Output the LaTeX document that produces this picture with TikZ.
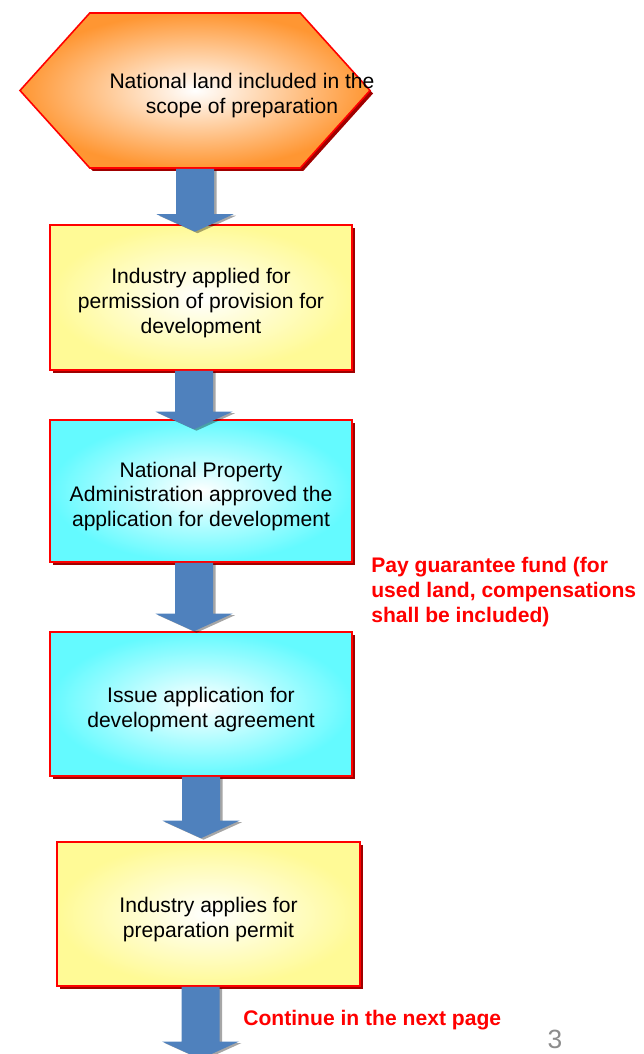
\documentclass[tikz,border=0pt]{standalone}
\usepackage{fontspec}
\setmainfont{Liberation Sans}
\usetikzlibrary{shapes.symbols,shadows,calc}
\definecolor{boxred}{RGB}{255,0,0}
\definecolor{shadowred}{RGB}{160,0,0}
\definecolor{paleyellow}{RGB}{255,250,150}
\definecolor{palecyan}{RGB}{100,250,255}
\definecolor{hexorange}{RGB}{255,150,50}
\definecolor{arrowblue}{RGB}{79,129,189}
\definecolor{pagegray}{RGB}{140,140,140}
\tikzset{
	stepshadow/.style={drop shadow={shadow xshift=0.06cm,shadow yshift=-0.06cm,fill=shadowred,opacity=1}},
	stepbox/.style={rectangle,draw=boxred,line width=0.9pt,minimum width=6.04cm,minimum height=2.88cm,inner color=white,stepshadow,align=center,font=\fontsize{12}{14.2}\selectfont},
	yellowbox/.style={stepbox,outer color=paleyellow},
	cyanbox/.style={stepbox,outer color=palecyan},
	redlabel/.style={text=red,font=\fontsize{12}{14.2}\selectfont\bfseries,align=left,anchor=west,inner sep=0pt}
}
\newcommand{\flowarrow}[2]{\fill[arrowblue,drop shadow={shadow xshift=0.05cm,shadow yshift=-0.03cm,fill=black,opacity=0.35}] let \p1=(#1),\p2=(#2) in (\x1-0.38cm,\y1) -- (\x1+0.38cm,\y1) -- (\x1+0.38cm,\y2+0.35cm) -- (\x1+0.77cm,\y2+0.35cm) -- (\x1,\y2) -- (\x1-0.77cm,\y2+0.35cm) -- (\x1-0.38cm,\y2+0.35cm) -- cycle;}
\begin{document}
\begin{tikzpicture}
		\useasboundingbox (0,0) rectangle (12.86,-21.08);
		\node[signal,signal to=west and east,signal pointer angle=96,draw=boxred,line width=0.9pt,minimum width=7cm,minimum height=3.1cm,inner color=white,outer color=hexorange,stepshadow] (hex) at (3.9,-1.81) {};
		\node[align=center,font=\fontsize{12}{14.2}\selectfont] (hextext) at (4.84,-1.92) {National land included in the\\scope of preparation};
		\node[yellowbox,minimum height=2.9cm] (box1) at (4.02,-5.95) {\rule{0pt}{15pt}Industry applied for\\permission of provision for\\development};
		\node[cyanbox,minimum height=2.84cm] (box2) at (4.02,-9.82) {\rule{0pt}{15pt}National Property\\Administration approved the\\application for development};
		\node[cyanbox] (box3) at (4.02,-14.08) {\rule{0pt}{15pt}Issue application for\\development agreement};
		\node[yellowbox,minimum width=6.06cm] (box4) at (4.17,-18.28) {\rule{0pt}{15pt}Industry applies for\\preparation permit};
		\coordinate (next) at (4.0,-21.18);
		\flowarrow{hex.south}{$(box1.north)+(0,-0.15)$}
		\flowarrow{$(box1.south)+(-0.14,0)$}{$(box2.north)+(0,-0.2)$}
		\flowarrow{$(box2.south)+(-0.14,0)$}{box3.north}
		\flowarrow{box3.south}{$(box4.north)+(0,0.06)$}
		\flowarrow{$(box4.south)+(-0.16,0)$}{next}
		\node[redlabel] (fund) at (7.42,-11.84) {Pay guarantee fund (for\\used land, compensations\\shall be included)};
		\node[redlabel] (cont) at (4.86,-20.4) {Continue in the next page};
		\node[text=pagegray,font=\fontsize{15}{18}\selectfont,inner sep=0pt,anchor=base] (pageno) at (11.1,-20.96) {3};
\end{tikzpicture}
\end{document}
